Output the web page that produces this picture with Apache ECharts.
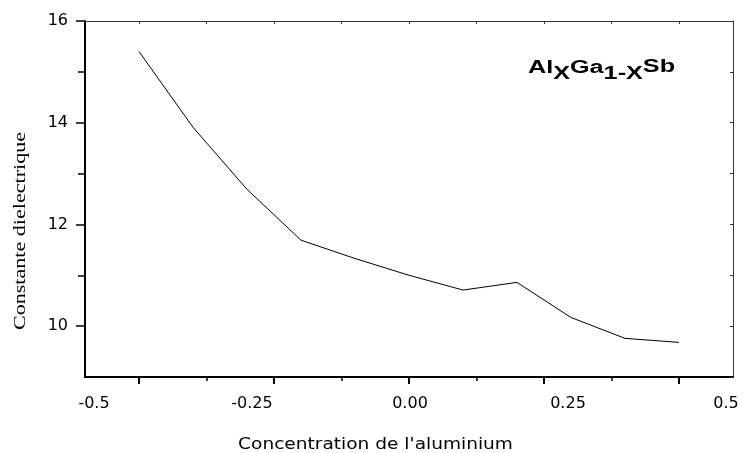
<!DOCTYPE html>
<html>
<head>
<meta charset="utf-8">
<title>Constante dielectrique - AlxGa1-xSb</title>
<script src="https://cdn.jsdelivr.net/npm/echarts@6/dist/echarts.min.js"></script>
<style>
  html, body { margin: 0; padding: 0; background: #fff; }
  #chart { width: 745px; height: 453px; }
</style>
</head>
<body>
<div id="chart"></div>
<script>
// Data
const concentration = [0, 0.1, 0.2, 0.3, 0.4, 0.5, 0.6, 0.7, 0.8, 0.9, 1.0];
const dielectric = [15.40, 13.91, 12.69, 11.69, 11.33, 11.00, 10.71, 10.86, 10.17, 9.76, 9.68];

// Axis ticks and labels
const xMajorTicks = [0, 0.25, 0.5, 0.75, 1];
const xMinorTicks = [0.125, 0.375, 0.625, 0.875];
const xLabelValues = [-0.5, -0.25, 0, 0.25, 0.5];
const xTickLabels = ['-0.5', '-0.25', '0.00', '0.25', '0.5'];
const yMajorTicks = [10, 12, 14, 16];
const yMinorTicks = [11, 13, 15];

const X_MIN = -0.1, X_MAX = 1.1;
const Y_MIN = 9, Y_MAX = 16;
const LABEL_FONT = 'DejaVu Sans';

const chart = echarts.init(document.getElementById('chart'));

const thinFrame = { show: true, onZero: false, lineStyle: { color: '#333', width: 1 } };
const noLine = { show: false, onZero: false };

const option = {
    animation: false,
    backgroundColor: '#fff',
    grid: { left: 85, right: 12, top: 21, bottom: 76, containLabel: false },
    xAxis: [
        {   // main bottom axis: line + major ticks
            type: 'value', position: 'bottom', min: X_MIN, max: X_MAX,
            axisLine: { show: true, onZero: false, lineStyle: { color: '#000', width: 2 } },
            axisTick: { show: true, customValues: xMajorTicks, length: 7, lineStyle: { color: '#000', width: 2 } },
            axisLabel: { show: false },
            splitLine: { show: false }
        },
        {   // minor ticks
            type: 'value', position: 'bottom', min: X_MIN, max: X_MAX,
            axisLine: noLine,
            axisTick: { show: true, customValues: xMinorTicks, length: 4, lineStyle: { color: '#000', width: 1.5 } },
            axisLabel: { show: false },
            splitLine: { show: false }
        },
        {   // tick labels as printed on the figure
            type: 'value', position: 'bottom', min: -0.5 - 9 / 632, max: 0.5 + 7 / 632,
            axisLine: noLine,
            axisTick: { show: false },
            axisLabel: {
                show: true, customValues: xLabelValues, margin: 19,
                color: '#000', fontFamily: LABEL_FONT, fontSize: 16,
                formatter: v => {
                    const i = xLabelValues.findIndex(t => Math.abs(t - v) < 1e-6);
                    return i >= 0 ? xTickLabels[i] : '';
                }
            },
            splitLine: { show: false }
        },
        {   // top frame
            type: 'value', position: 'top', min: X_MIN, max: X_MAX,
            axisLine: thinFrame,
            axisTick: { show: true, inside: true, customValues: xMajorTicks.concat(xMinorTicks), length: 3, lineStyle: { color: '#333', width: 1 } },
            axisLabel: { show: false },
            splitLine: { show: false }
        }
    ],
    yAxis: [
        {
            type: 'value', position: 'left', min: Y_MIN, max: Y_MAX,
            axisLine: { show: true, onZero: false, lineStyle: { color: '#000', width: 2 } },
            axisTick: { show: true, customValues: yMajorTicks, length: 9, lineStyle: { color: '#000', width: 1.5 } },
            axisLabel: {
                show: true, customValues: yMajorTicks, margin: 17,
                color: '#000', fontFamily: LABEL_FONT, fontSize: 16
            },
            splitLine: { show: false }
        },
        {
            type: 'value', position: 'left', min: Y_MIN, max: Y_MAX,
            axisLine: noLine,
            axisTick: { show: true, customValues: yMinorTicks, length: 7, lineStyle: { color: '#000', width: 1.5 } },
            axisLabel: { show: false },
            splitLine: { show: false }
        },
        {   // right frame
            type: 'value', position: 'right', min: Y_MIN, max: Y_MAX, interval: 1,
            axisLine: thinFrame,
            axisTick: { show: true, inside: true, length: 3, lineStyle: { color: '#333', width: 1 } },
            axisLabel: { show: false },
            splitLine: { show: false }
        }
    ],
    series: [{
        type: 'line',
        xAxisIndex: 0,
        yAxisIndex: 0,
        data: concentration.map((x, i) => [x, dielectric[i]]),
        showSymbol: false,
        lineStyle: { color: '#000', width: 1 }
    }],
    graphic: [
        {   // compound label
            type: 'text', x: 528, y: 53.5, scaleX: 1.4,
            style: {
                text: '{m|Al}{s|X}{m|Ga}{s|1-X}{p|Sb}',
                align: 'left', verticalAlign: 'top',
                rich: {
                    m: { fontFamily: 'Liberation Sans', fontWeight: 'bold', fontSize: 18, lineHeight: 30, fill: '#000' },
                    s: { fontFamily: 'Liberation Sans', fontWeight: 'bold', fontSize: 18, lineHeight: 20, verticalAlign: 'bottom', fill: '#000' },
                    p: { fontFamily: 'Liberation Sans', fontWeight: 'bold', fontSize: 18, verticalAlign: 'top', padding: [5, 0, 0, 0], fill: '#000' }
                }
            }
        },
        {   // x axis title
            type: 'text', x: 375.5, y: 445, scaleX: 1.16,
            style: {
                text: "Concentration de l'aluminium",
                align: 'center', verticalAlign: 'middle',
                fontFamily: LABEL_FONT, fontSize: 16, fill: '#000'
            }
        },
        {   // y axis title
            type: 'text', x: 21, y: 231, rotation: Math.PI / 2, scaleX: 1.3,
            style: {
                text: 'Constante dielectrique',
                align: 'center', verticalAlign: 'middle',
                fontFamily: 'Liberation Serif', fontSize: 17, fill: '#000'
            }
        }
    ]
};

chart.setOption(option);
window.addEventListener('resize', () => chart.resize());
</script>
</body>
</html>
